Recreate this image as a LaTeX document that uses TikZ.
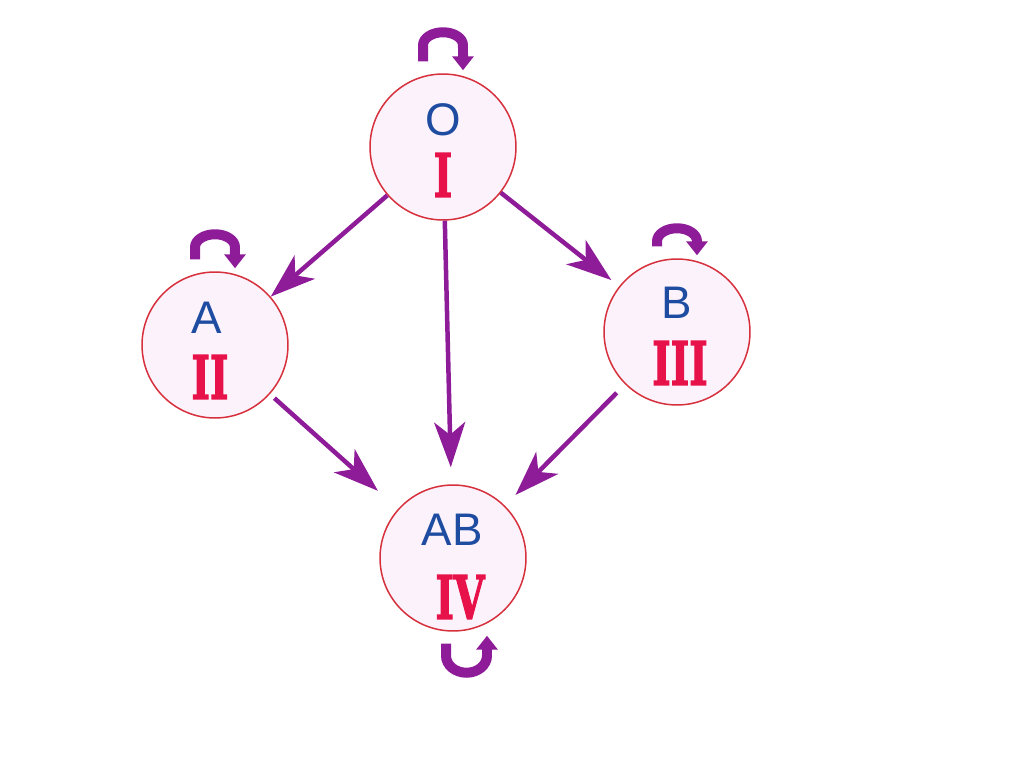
\documentclass[tikz,border=0pt]{standalone}
\usepackage{fontspec}
\setmainfont{Liberation Sans}
\newfontfamily\numfont[BoldFeatures={FakeBold=2.5}]{DejaVu Serif}
\usepackage{graphicx}
\usetikzlibrary{arrows.meta,calc}
\definecolor{roxo}{RGB}{142,28,152}
\definecolor{aro}{RGB}{214,48,60}
\definecolor{fundo}{RGB}{252,242,252}
\definecolor{azul}{RGB}{30,76,160}
\definecolor{vermelho}{RGB}{232,18,74}
\tikzset{
  grupo/.style={circle, draw=aro, line width=0.03cm, fill=fundo, minimum size=2.92cm, inner sep=0pt},
  sigla/.style={azul, inner sep=0pt, font=\fontsize{26}{26}\selectfont},
  romano/.style={vermelho, inner sep=0pt, font=\numfont\bfseries\fontsize{34}{34}\selectfont},
  seta/.style={roxo, line width=0.09cm, -{Stealth[length=0.9cm, width=0.62cm, inset=0.25cm]}},
  volta/.style={roxo, line width=0.2cm, -{Triangle[length=0.28cm, width=0.42cm]}},
}
\begin{document}
\begin{tikzpicture}[x=0.02cm, y=-0.02cm]
  \useasboundingbox (0,0) rectangle (1024,767);
  % (no, x, y, sigla, romano, desvio da sigla, desvio do romano)
  \foreach \nome/\px/\py/\sig/\num/\lx/\ly/\rx/\ry in {
    o/443/147/O/I/0/-27/0/28, a/215/345/A/II/-8/-27/-5/32,
    b/677/332/B/III/0/-29/3/31, ab/453/558/AB/IV/-1/-28/7/39}
  {
    \node[grupo] (\nome) at (\px,\py) {};
    \node[sigla] (\nome-sig) at ($(\nome)+(\lx,\ly)$) {\sig};
    \node[romano] (\nome-num) at ($(\nome)+(\rx,\ry)$) {\scalebox{0.66}[1]{\num}};
  }
  % herancas entre grupos
  \foreach \de/\para/\ini/\fim in {
    o/a/0cm/0cm, o/ab/0cm/0.34cm, o/b/0cm/0.2cm,
    a/ab/0.12cm/0.54cm, b/ab/0.24cm/0.3cm}
    \draw[seta, shorten <=\ini, shorten >=\fim] (\de) -- (\para);
  % voltas sobre si mesmo (altura acima do circulo)
  \foreach \nome/\alto in {o/42, a/38, b/31}
    \draw[volta] ($(\nome.north)+(-20,-12)$) -- ++(0,{-(\alto-26)})
      arc[start angle=180, end angle=0, x radius=0.4cm, y radius=0.26cm]
      -- ($(\nome.north)+(20,-3)$);
  \draw[volta] ($(ab.south)+(-7,12)$) -- ++(0,12)
    arc[start angle=180, end angle=360, x radius=0.41cm, y radius=0.34cm]
    -- ($(ab.south)+(34,4)$);
\end{tikzpicture}
\end{document}
